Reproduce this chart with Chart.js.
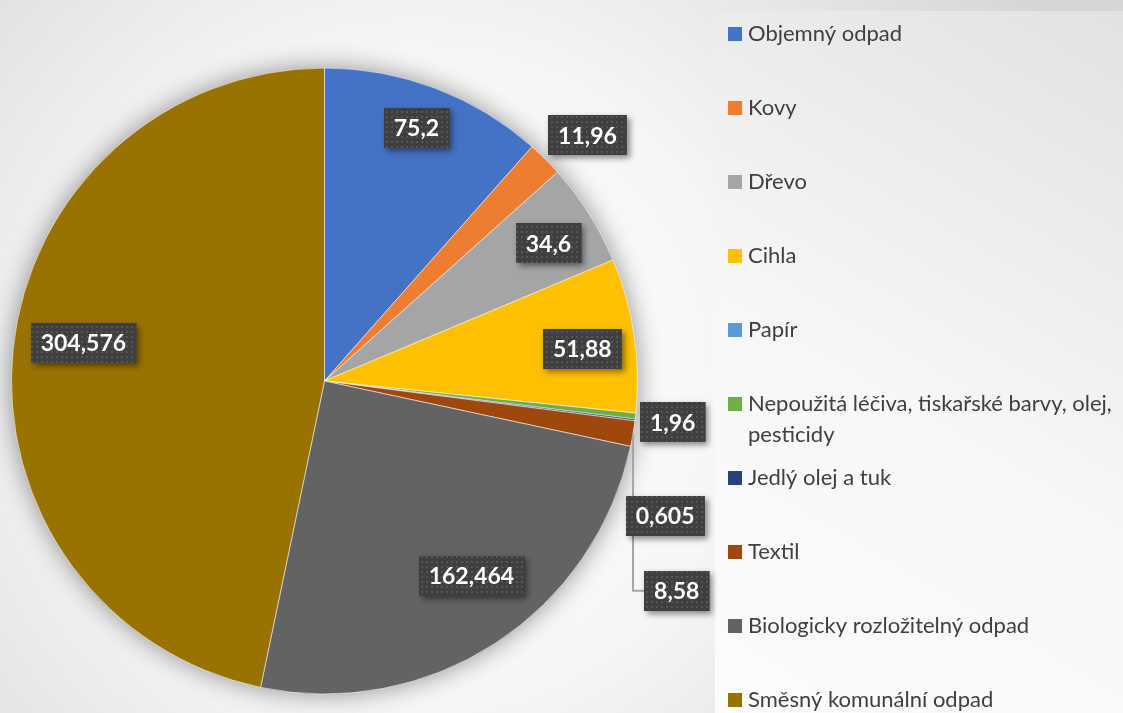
<!DOCTYPE html>
<html><head><meta charset="utf-8">
<script src="https://cdn.jsdelivr.net/npm/chart.js@4"></script>
<style>html,body{margin:0;padding:0;background:#fff;overflow:hidden}#wrap{width:1123px;height:713px;position:relative}</style>
</head><body><div id="wrap"><canvas id="c" width="1123" height="713"></canvas></div>
<script>
// ---- data ----
const categories = [
  'Objemný odpad', 'Kovy', 'Dřevo', 'Cihla', 'Papír',
  'Nepoužitá léčiva, tiskařské barvy, olej, pesticidy',
  'Jedlý olej a tuk', 'Textil', 'Biologicky rozložitelný odpad', 'Směsný komunální odpad'
];
const values = [75.2, 11.96, 34.6, 51.88, 0, 1.96, 0.605, 8.58, 162.464, 304.576];
const colors = ['#4472C4', '#ED7D31', '#A5A5A5', '#FFC000', '#5B9BD5', '#70AD47', '#264478', '#9E480E', '#636363', '#997300'];

// ---- label placement (style): angular shift in degrees, radius as fraction of pie radius ----
const labelShift  = [-0.8, 2.1, 0.7, 1.3, 0, 0.3, 14.4, 21.1, -3.9, 3.1];
const labelRadius = [0.86, 1.15, 0.84, 0.83, 0.8, 1.12, 1.17, 1.31, 0.78, 0.78];

const fmt = v => String(v).replace('.', ',');

// dotted pattern for label boxes
const pc = document.createElement('canvas'); pc.width = 5; pc.height = 5;
const pctx = pc.getContext('2d');
pctx.fillStyle = '#3f3f3f'; pctx.fillRect(0, 0, 5, 5);
pctx.fillStyle = '#555555'; pctx.fillRect(1, 1, 2, 2);

const bgPlugin = {
  id: 'bg',
  beforeDraw(chart) {
    const ctx = chart.ctx, W = chart.width, H = chart.height;
    ctx.save();
    const g = ctx.createRadialGradient(420, 380, 0, 420, 380, 720);
    g.addColorStop(0, '#ffffff');
    g.addColorStop(0.45, '#f6f6f6');
    g.addColorStop(1, '#d6d6d6');
    ctx.fillStyle = g; ctx.fillRect(0, 0, W, H);
    const lg = ctx.createLinearGradient(715, 713, 1123, 11);
    lg.addColorStop(0, '#fcfcfc');
    lg.addColorStop(0.45, '#f7f7f7');
    lg.addColorStop(1, '#e2e2e2');
    ctx.fillStyle = lg; ctx.fillRect(715, 11, W - 715, H - 11);
    ctx.restore();
  },
  beforeDatasetsDraw(chart) {
    const arc = chart.getDatasetMeta(0).data[0];
    if (!arc) return;
    const ctx = chart.ctx;
    ctx.save();
    ctx.shadowColor = 'rgba(0,0,0,0.45)';
    ctx.shadowBlur = 26;
    ctx.beginPath();
    ctx.arc(arc.x, arc.y, arc.outerRadius - 1, 0, Math.PI * 2);
    ctx.fillStyle = '#888';
    ctx.fill();
    ctx.restore();
  },
  afterDatasetsDraw(chart) {
    const ctx = chart.ctx;
    const meta = chart.getDatasetMeta(0);
    const vals = chart.data.datasets[0].data;
    const items = [];
    meta.data.forEach((arc, i) => {
      if (!vals[i]) return;
      const mid = (arc.startAngle + arc.endAngle) / 2;
      const a = mid + labelShift[i] * Math.PI / 180;
      const r = arc.outerRadius * labelRadius[i];
      items.push({ i, arc, mid, x: arc.x + Math.cos(a) * r, y: arc.y + Math.sin(a) * r, text: fmt(vals[i]) });
    });
    ctx.save();
    ctx.font = 'bold 23px Lato';
    items.forEach(it => {
      const tw = ctx.measureText(it.text).width;
      it.w = tw + 20; it.h = 40;
      const ex = it.arc.x + Math.cos(it.mid) * it.arc.outerRadius;
      const ey = it.arc.y + Math.sin(it.mid) * it.arc.outerRadius;
      const left = it.x - it.w / 2;
      if (labelRadius[it.i] > 1 && left > ex + 4 && Math.abs(it.y - ey) > 40) {
        ctx.strokeStyle = '#a6a6a6'; ctx.lineWidth = 2;
        ctx.beginPath();
        ctx.moveTo(ex, ey); ctx.lineTo(ex, it.y); ctx.lineTo(left, it.y);
        ctx.stroke();
      }
    });
    const pat = ctx.createPattern(pc, 'repeat');
    items.forEach(it => {
      const bx = Math.round(it.x - it.w / 2), by = Math.round(it.y - it.h / 2);
      ctx.save();
      ctx.shadowColor = 'rgba(0,0,0,0.45)';
      ctx.shadowBlur = 6; ctx.shadowOffsetX = 3; ctx.shadowOffsetY = 3;
      ctx.fillStyle = '#3f3f3f';
      ctx.fillRect(bx, by, it.w, it.h);
      ctx.restore();
      ctx.fillStyle = pat;
      ctx.fillRect(bx, by, it.w, it.h);
      ctx.fillStyle = '#ffffff';
      ctx.textAlign = 'center'; ctx.textBaseline = 'middle';
      ctx.fillText(it.text, it.x, it.y + 1);
    });
    ctx.restore();
  },
  afterDraw(chart) {
    const ctx = chart.ctx;
    const labels = chart.data.labels;
    const cols = chart.data.datasets[0].backgroundColor;
    const x0 = 728, top = 34, step = 74, maxW = 1123 - 748, lh = 31;
    ctx.save();
    ctx.font = '22px Lato';
    ctx.textBaseline = 'middle';
    ctx.textAlign = 'left';
    labels.forEach((lab, i) => {
      const cy = top + step * i;
      ctx.fillStyle = cols[i];
      ctx.fillRect(x0, cy - 7, 14, 14);
      ctx.fillStyle = '#404040';
      const words = lab.split(' ');
      let line = '', lines = [];
      words.forEach(w => {
        const t = line ? line + ' ' + w : w;
        if (ctx.measureText(t).width > maxW && line) { lines.push(line); line = w; } else line = t;
      });
      lines.push(line);
      lines.forEach((l, k) => ctx.fillText(l, x0 + 20, cy + k * lh));
    });
    ctx.restore();
  }
};

new Chart(document.getElementById('c'), {
  type: 'pie',
  data: {
    labels: categories,
    datasets: [{
      data: values,
      backgroundColor: colors,
      borderColor: 'rgba(255,255,255,0.55)',
      borderWidth: 1
    }]
  },
  options: {
    responsive: false,
    animation: false,
    devicePixelRatio: 1,
    layout: { padding: { left: 11, top: 67, right: 485, bottom: 18 } },
    plugins: { legend: { display: false }, tooltip: { enabled: false } }
  },
  plugins: [bgPlugin]
});
</script>
</body></html>
